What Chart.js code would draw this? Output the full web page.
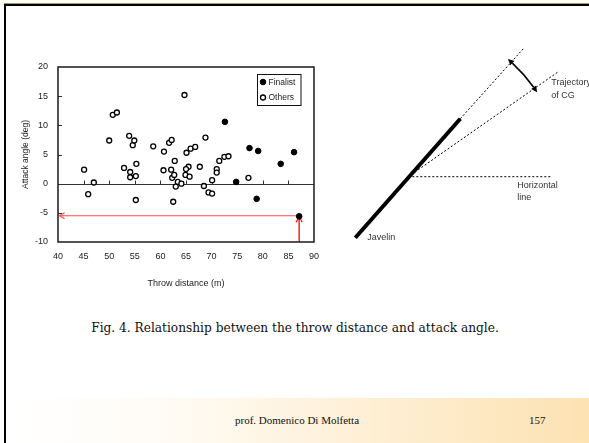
<!DOCTYPE html>
<html>
<head>
<meta charset="utf-8">
<script src="https://cdn.jsdelivr.net/npm/chart.js@4.4.1/dist/chart.umd.min.js"></script>
<style>
html,body{margin:0;padding:0;background:#fff;}
body{width:589px;height:443px;position:relative;overflow:hidden;}
#frame{position:absolute;left:4px;top:4px;width:700px;height:600px;border-left:2px solid #000;border-top:2px solid #000;box-shadow:0 -1px 0 #a89868;}
#footer{position:absolute;left:6px;top:398px;width:583px;height:45px;background:linear-gradient(to right,#ffffff 0%,#fffcf7 25%,#fde2b2 100%);}
#c1{position:absolute;left:0;top:0;}
#c2{position:absolute;left:340px;top:40px;}
#caption{position:absolute;left:0;width:590px;top:321px;text-align:center;font-family:'DejaVu Serif',serif;font-size:12px;line-height:14px;color:#111;white-space:nowrap;}
.foot{position:absolute;top:414px;font-family:'Liberation Serif','Times New Roman',serif;font-size:11px;line-height:13px;color:#111;white-space:nowrap;}
</style>
</head>
<body>
<div id="frame"></div>
<div id="footer"></div>
<canvas id="c1" width="330" height="300"></canvas>
<canvas id="c2" width="249" height="210"></canvas>
<div id="caption"><span id="capText">Fig. 4. Relationship between the throw distance and attack angle.</span></div>
<div class="foot" style="left:235px;">prof. Domenico Di Molfetta</div>
<div class="foot" style="left:529px;">157</div>
<script>
// ---------------- data ----------------
const xAxisTitle = 'Throw distance (m)';
const yAxisTitle = 'Attack angle (deg)';
const xTickValues = [40, 45, 50, 55, 60, 65, 70, 75, 80, 85, 90];
const yTickValues = [-10, -5, 0, 5, 10, 15, 20];

const throwFinalist  = [72.6, 74.8, 77.4, 79.1, 78.8, 83.5, 86.1, 87.1];
const attackFinalist = [10.6, 0.3, 6.1, 5.6, -2.6, 3.4, 5.4, -5.6];

const throwOthers  = [45.1,45.9,47.0,50.0,50.7,51.5,52.9,53.9,54.1,54.1,54.6,54.9,55.2,55.3,55.2,58.6,60.6,60.7,61.7,62.2,62.1,62.3,62.7,62.8,63.4,64.1,63.0,62.5,64.7,65.1,65.9,66.8,65.5,65.0,64.9,65.7,67.7,68.8,68.5,69.4,70.1,70.1,71.0,71.0,71.5,72.5,73.3,77.2];
const attackOthers = [2.4,-1.8,0.2,7.4,11.8,12.2,2.7,8.2,2.0,1.1,6.6,7.4,1.3,3.4,-2.8,6.4,2.3,5.5,7.0,7.5,2.4,1.0,1.5,3.9,0.3,0.0,-0.5,-3.1,15.2,5.3,6.0,6.3,2.9,2.5,1.5,1.2,2.9,7.9,-0.4,-1.5,-1.7,0.6,2.5,1.9,3.9,4.6,4.7,1.0];

// red reading arrows (best throw)
const arrowThrow = [87.1, 87.1];
const arrowAttackV = [-10, -5.6];
const arrowThrowH = [87.1, 40.3];
const arrowAttackH = [-5.5, -5.5];

// diagram (release point at origin, units in diagram space)
const javelinBody   = [{x:-53, y:-61}, {x:52, y:58}];
const javelinAxis   = [{x:52, y:58}, {x:115, y:128}];
const cgTrajectory  = [{x:0, y:0}, {x:150, y:105}];
const horizontalRef = [{x:0, y:0}, {x:144, y:0}];
const attackArc = {r:154, from:47.5, to:35.5};
const diagramLabels = [
  {text:'Javelin', x:-41, y:-61},
  {text:'Horizontal', x:109, y:-9},
  {text:'line', x:109, y:-21},
  {text:'Trajectory', x:143, y:94},
  {text:'of CG', x:143, y:81}
];

// ---------------- helpers ----------------
const FONT = "'Liberation Sans', Arial, sans-serif";
const pts = (xs, ys) => xs.map((x, i) => ({x, y: ys[i]}));

// fit caption width
(function(){
  const s = document.getElementById('capText');
  const w = s.offsetWidth;
  const target = 408;
  s.parentNode.style.fontSize = (12 * target / w).toFixed(2) + 'px';
})();

const framePlugin = {
  id: 'frame',
  beforeDatasetsDraw(chart) {
    const {ctx, chartArea: a, scales: {x, y}} = chart;
    ctx.save();
    ctx.strokeStyle = '#333';
    ctx.lineWidth = 1.2;
    const y0 = Math.round(y.getPixelForValue(0)) + 0.5;
    ctx.beginPath(); ctx.moveTo(a.left, y0); ctx.lineTo(a.right, y0); ctx.stroke();
    ctx.lineWidth = 1;
    xTickValues.forEach(v => {
      if (v <= x.min || v >= x.max) return;
      const px = Math.round(x.getPixelForValue(v)) + 0.5;
      ctx.beginPath(); ctx.moveTo(px, y0); ctx.lineTo(px, y0 - 4); ctx.stroke();
    });
    yTickValues.forEach(v => {
      if (v <= y.min || v >= y.max) return;
      const py = Math.round(y.getPixelForValue(v)) + 0.5;
      ctx.beginPath(); ctx.moveTo(a.left, py); ctx.lineTo(a.left + 4, py); ctx.stroke();
    });
    ctx.restore();
  },
  afterDatasetsDraw(chart) {
    const {ctx, chartArea: a, scales: {x, y}} = chart;
    ctx.save();
    ctx.lineWidth = 1.2;
    ctx.strokeStyle = '#ff4a4a';
    let tx = x.getPixelForValue(arrowThrowH[1]), ty = y.getPixelForValue(arrowAttackH[1]);
    ctx.beginPath(); ctx.moveTo(tx + 5, ty - 3); ctx.lineTo(tx, ty); ctx.lineTo(tx + 5, ty + 3); ctx.stroke();
    ctx.strokeStyle = '#ff0000';
    tx = x.getPixelForValue(arrowThrow[1]); ty = y.getPixelForValue(arrowAttackV[1]);
    ctx.beginPath(); ctx.moveTo(tx - 3, ty + 6); ctx.lineTo(tx, ty); ctx.lineTo(tx + 3, ty + 6); ctx.stroke();
    ctx.fillStyle = '#000';
    ctx.beginPath(); ctx.arc(tx, ty, 2.8, 0, Math.PI * 2); ctx.fill();

    ctx.strokeStyle = '#1a1a1a';
    ctx.lineWidth = 1.5;
    ctx.strokeRect(a.left, a.top, a.right - a.left, a.bottom - a.top);

    // legend box
    const bw = 43.5, bh = 31;
    const bx = a.right - 13.5 - bw, by = a.top + 7;
    ctx.fillStyle = '#fff';
    ctx.fillRect(bx, by, bw, bh);
    ctx.strokeStyle = '#111';
    ctx.lineWidth = 1;
    ctx.strokeRect(Math.round(bx) + 0.5, Math.round(by) + 0.5, bw, bh);
    ctx.font = '8.5px ' + FONT;
    ctx.textBaseline = 'middle';
    ctx.textAlign = 'left';
    const ds = chart.data.datasets;
    [0, 1].forEach((i, row) => {
      const cy = by + 8 + row * 15.5;
      const cx = bx + 6;
      ctx.beginPath(); ctx.arc(cx, cy, ds[i].pointRadius, 0, Math.PI * 2);
      ctx.fillStyle = ds[i].backgroundColor; ctx.fill();
      ctx.strokeStyle = ds[i].borderColor; ctx.lineWidth = ds[i].borderWidth; ctx.stroke();
      ctx.fillStyle = '#222';
      ctx.fillText(ds[i].label, bx + 11.5, cy + 0.5);
    });
    ctx.restore();
  }
};

new Chart(document.getElementById('c1'), {
  type: 'scatter',
  data: {
    datasets: [
      {label: 'Finalist', data: pts(throwFinalist, attackFinalist), pointRadius: 2.8, pointHoverRadius: 2.8,
       backgroundColor: '#000', borderColor: '#000', borderWidth: 1, order: 0},
      {label: 'Others', data: pts(throwOthers, attackOthers), pointRadius: 2.5, pointHoverRadius: 2.5,
       backgroundColor: '#fff', borderColor: '#000', borderWidth: 1.3, order: 0},
      {label: 'readH', data: pts(arrowThrowH, arrowAttackH), showLine: true, pointRadius: 0,
       borderColor: '#ff4a4a', borderWidth: 1.2, order: 2},
      {label: 'readV', data: pts(arrowThrow, arrowAttackV), showLine: true, pointRadius: 0,
       borderColor: '#ff0000', borderWidth: 1.3, order: 2, clip: false}
    ]
  },
  options: {
    responsive: false, animation: false, devicePixelRatio: 1,
    layout: {padding: {top: 67, right: 16, left: 0, bottom: 0}},
    plugins: {legend: {display: false}, tooltip: {enabled: false}},
    scales: {
      x: {
        type: 'linear', min: 40, max: 90,
        afterBuildTicks: s => { s.ticks = xTickValues.map(v => ({value: v})); },
        ticks: {padding: 9, color: '#222', font: {family: FONT, size: 9}},
        grid: {display: false, drawTicks: false}, border: {display: false},
        title: {display: true, text: xAxisTitle, color: '#222', font: {family: FONT, size: 9}, padding: {top: 11, bottom: 11}},
        afterFit: s => { s.height = 58; }
      },
      y: {
        type: 'linear', min: -10, max: 20,
        afterBuildTicks: s => { s.ticks = yTickValues.map(v => ({value: v})); },
        ticks: {padding: 10, color: '#222', font: {family: FONT, size: 9}},
        grid: {display: false, drawTicks: false}, border: {display: false},
        title: {display: true, text: yAxisTitle, color: '#222', font: {family: FONT, size: 8.5}, padding: {top: 21, bottom: 21}},
        afterFit: s => { s.width = 58; }
      }
    }
  },
  plugins: [framePlugin]
});

// ---------------- diagram ----------------
const diagramPlugin = {
  id: 'diagram',
  afterDatasetsDraw(chart) {
    const {ctx, scales: {x, y}} = chart;
    ctx.save();
    const cx = x.getPixelForValue(0), cy = y.getPixelForValue(0);
    const r = x.getPixelForValue(attackArc.r) - cx;
    const a1 = attackArc.from * Math.PI / 180, a2 = attackArc.to * Math.PI / 180;
    ctx.strokeStyle = '#000'; ctx.fillStyle = '#000'; ctx.lineWidth = 1.6;
    ctx.beginPath(); ctx.arc(cx, cy, r, -a1, -a2, false); ctx.stroke();
    const head = (th, dir) => {
      const px = cx + r * Math.cos(th), py = cy - r * Math.sin(th);
      const dx = dir * -Math.sin(th), dy = dir * -Math.cos(th);
      const L = 6, W = 3;
      ctx.beginPath();
      ctx.moveTo(px + dx * L, py + dy * L);
      ctx.lineTo(px - dy * W, py + dx * W);
      ctx.lineTo(px + dy * W, py - dx * W);
      ctx.closePath(); ctx.fill();
    };
    head(a1, 1);
    head(a2, -1);
    ctx.font = '9px ' + FONT;
    ctx.fillStyle = '#333';
    ctx.textBaseline = 'middle'; ctx.textAlign = 'left';
    diagramLabels.forEach(l => ctx.fillText(l.text, x.getPixelForValue(l.x), y.getPixelForValue(l.y)));
    ctx.restore();
  }
};

const dashed = {showLine: true, pointRadius: 0, borderColor: '#000', borderWidth: 1, borderDash: [2, 2]};
new Chart(document.getElementById('c2'), {
  type: 'scatter',
  data: {
    datasets: [
      Object.assign({label: 'axis', data: javelinAxis}, dashed),
      Object.assign({label: 'trajectory', data: cgTrajectory}, dashed),
      Object.assign({label: 'horizontal', data: horizontalRef}, dashed),
      {label: 'javelin', data: javelinBody, showLine: true, pointRadius: 0, borderColor: '#000', borderWidth: 4}
    ]
  },
  options: {
    responsive: false, animation: false, devicePixelRatio: 1,
    layout: {padding: 0},
    plugins: {legend: {display: false}, tooltip: {enabled: false}},
    scales: {
      x: {type: 'linear', display: false, min: -68.3, max: 180.7},
      y: {type: 'linear', display: false, min: -73.3, max: 136.7}
    }
  },
  plugins: [diagramPlugin]
});
</script>
</body>
</html>
